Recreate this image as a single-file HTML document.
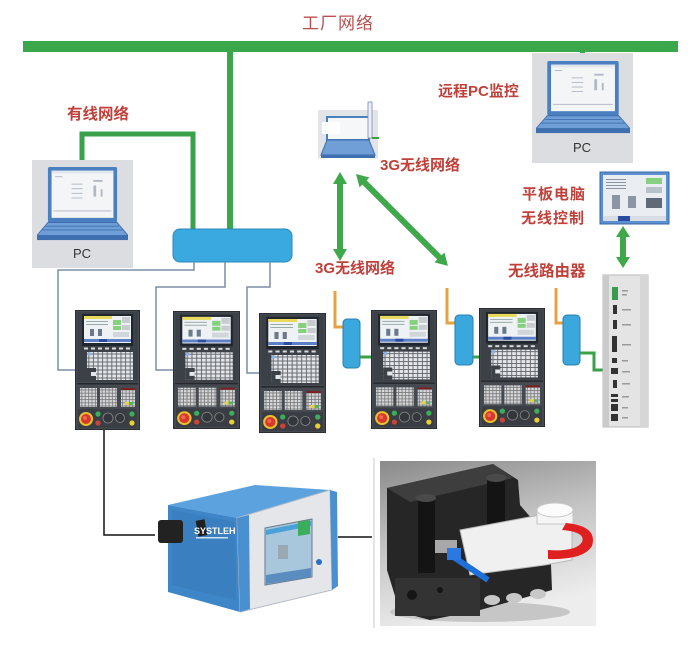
<!DOCTYPE html>
<html><head><meta charset="utf-8"><style>
html,body{margin:0;padding:0;background:#fff;}
svg{display:block;}
.lb{font-family:"Liberation Sans","Noto Sans CJK SC",sans-serif;fill:#c0403a;font-weight:bold;}
</style></head><body>
<svg width="700" height="659" viewBox="0 0 700 659" xmlns="http://www.w3.org/2000/svg">
<defs>
<pattern id="keys" x="0" y="0" width="4.6" height="4" patternUnits="userSpaceOnUse">
<rect width="4.6" height="4" fill="#6a6e74"/><rect x="0.5" y="0.5" width="3.6" height="3" fill="#e4e6e9"/>
</pattern>
<pattern id="keys2" x="0" y="0" width="3.4" height="3.2" patternUnits="userSpaceOnUse">
<rect width="3.4" height="3.2" fill="#777"/><rect x="0.4" y="0.4" width="2.6" height="2.4" fill="#d6d8db"/>
</pattern>
<linearGradient id="bg3d" x1="0" y1="0" x2="0.3" y2="1">
<stop offset="0" stop-color="#8a8a8a"/><stop offset="0.5" stop-color="#c4c4c4"/><stop offset="1" stop-color="#ededed"/>
</linearGradient>
<symbol id="cnc" viewBox="0 0 65 120" preserveAspectRatio="none">
<rect x="0.5" y="0.5" width="64" height="119" fill="#454a50" stroke="#2a2d31"/>
<rect x="2" y="2" width="61" height="70" fill="#3c4147"/>
<rect x="7" y="4" width="51" height="32" fill="#20262e"/>
<rect x="9" y="6" width="47" height="27" fill="#eef2f4"/>
<rect x="9" y="6" width="28" height="3" fill="#e8d95a"/>
<rect x="38" y="10" width="8" height="5" fill="#86d07f"/>
<rect x="47" y="7" width="8" height="6" fill="#c8ccd0"/>
<rect x="38" y="16" width="8" height="4" fill="#86d07f"/>
<rect x="47" y="15" width="8" height="5" fill="#c8ccd0"/>
<rect x="11" y="11" width="22" height="1" fill="#9aa"/>
<rect x="11" y="14" width="22" height="1" fill="#9aa"/>
<rect x="15" y="19" width="4" height="7" fill="#6a7a8a"/>
<rect x="23" y="19" width="4" height="7" fill="#6a7a8a"/>
<rect x="38" y="22" width="16" height="5" fill="#d0d6da"/>
<rect x="9" y="29" width="47" height="3" fill="#5c7fc8"/>
<rect x="24" y="29" width="8" height="3" fill="#2a4da0"/>
<g fill="#d8dadc">
<rect x="9" y="37.5" width="4" height="2"/><rect x="16" y="37.5" width="4" height="2"/><rect x="23" y="37.5" width="4" height="2"/><rect x="30" y="37.5" width="4" height="2"/><rect x="37" y="37.5" width="4" height="2"/><rect x="44" y="37.5" width="4" height="2"/><rect x="51" y="37.5" width="4" height="2"/>
</g>
<rect x="12" y="42" width="46" height="28" fill="url(#keys)"/>
<rect x="12.5" y="42.5" width="3.6" height="3" fill="#8fb0e0"/>
<rect x="12" y="58" width="9" height="12" fill="#3c4147"/>
<rect x="16" y="62" width="5" height="4" fill="#e4e6e9"/>
<rect x="2" y="73" width="61" height="1.5" fill="#25282c"/>
<rect x="5" y="78" width="17" height="19" fill="url(#keys2)"/>
<rect x="25" y="78" width="17" height="19" fill="url(#keys2)"/>
<rect x="46" y="80" width="14" height="17" fill="url(#keys2)"/>
<rect x="46" y="78" width="14" height="2" fill="#7a2020"/>
<rect x="50" y="92" width="4" height="3" fill="#e6d23a"/>
<rect x="55" y="92" width="3" height="3" fill="#4cb860"/>
<rect x="3" y="99" width="59" height="19" fill="#3a3e44"/>
<circle cx="11" cy="109" r="7" fill="#e8c030"/><circle cx="11" cy="109" r="5" fill="#d8382c"/><circle cx="10" cy="108" r="2" fill="#ee6655"/>
<circle cx="23" cy="104" r="2.6" fill="#3cae5a"/><circle cx="23" cy="113" r="2.6" fill="#c9453a"/>
<circle cx="33" cy="108" r="5" fill="#33363b" stroke="#888" stroke-width="0.8"/>
<circle cx="45" cy="108" r="4.5" fill="#33363b" stroke="#888" stroke-width="0.8"/>
<circle cx="57" cy="104" r="2.6" fill="#3cae5a"/><circle cx="57" cy="113" r="2.6" fill="#e8d030"/>
</symbol>
<symbol id="laptop" viewBox="0 0 100 80" preserveAspectRatio="none">
<rect x="12" y="0" width="76" height="60" rx="2" fill="#4a7fc0"/>
<rect x="16" y="4" width="68" height="51" fill="#f3f5f7"/>
<rect x="16" y="4" width="68" height="3" fill="#dfe6ee"/>
<g fill="#b0b8c4"><rect x="20" y="10" width="8" height="1"/><rect x="38" y="18" width="12" height="1"/><rect x="38" y="23" width="12" height="1"/><rect x="38" y="28" width="12" height="1"/><rect x="38" y="33" width="12" height="1"/><rect x="62" y="14" width="10" height="2"/><rect x="62" y="20" width="3" height="12"/><rect x="70" y="24" width="2" height="8"/><rect x="18" y="47" width="64" height="1"/></g>
<polygon points="12,60 88,60 100,74 0,74" fill="#6f9fd6" stroke="#3e6fae" stroke-width="1"/>
<g stroke="#3e6fae" stroke-width="1"><line x1="10" y1="64" x2="90" y2="64"/><line x1="6" y1="68" x2="94" y2="68"/></g>
<rect x="0" y="74" width="100" height="5" fill="#3e6fae"/>
</symbol>
</defs>

<!-- Title & main bus -->
<text x="302" y="29" class="lb" style="fill:#b85050;font-weight:normal;font-size:17px;letter-spacing:1px">工厂网络</text>
<rect x="23" y="41" width="655" height="11" fill="#3aa84a"/>
<rect x="227" y="52" width="6" height="178" fill="#3aa84a"/>
<rect x="580" y="52" width="5" height="8" fill="#3aa84a"/>

<!-- left PC -->
<rect x="32" y="160" width="101" height="108" fill="#dcdde0"/>
<use href="#laptop" x="37" y="167" width="91" height="74"/>
<text x="82" y="258" text-anchor="middle" style="font-family:'Liberation Sans',sans-serif;font-size:13px;fill:#333">PC</text>
<text x="67" y="119" class="lb" style="font-size:15.5px">有线网络</text>
<polyline points="82,160 82,134 193,134 193,230" fill="none" stroke="#3aa04a" stroke-width="5"/>

<!-- switch -->
<rect x="173" y="229" width="119" height="33" rx="7" fill="#3aa9e0" stroke="#2a86bb" stroke-width="1"/>
<g fill="none" stroke="#7d8ea5" stroke-width="1.5">
<polyline points="194,262 194,270 58,270 58,370 75,370"/>
<polyline points="225,262 225,287 156,287 156,370 173,370"/>
<polyline points="270,262 270,287 247,287 247,373 259,373"/>
</g>

<!-- 3G laptop -->
<rect x="318" y="110" width="60" height="48" fill="#e2e4e7"/>
<rect x="327" y="117" width="42" height="23" fill="#f5f7f9" stroke="#4a7fc0" stroke-width="2"/>
<rect x="322" y="122" width="18" height="12" fill="#fff"/>
<polygon points="327,140 369,140 375,155 321,155" fill="#6f9fd6" stroke="#3e6fae"/>
<rect x="321" y="155" width="54" height="3" fill="#3e6fae"/>
<rect x="368" y="102" width="4" height="36" fill="#eef" stroke="#7a8aa0" stroke-width="0.8"/>
<rect x="372" y="137" width="7" height="2" fill="#3aa04a"/>
<text x="380" y="170" class="lb" style="font-size:15px">3G无线网络</text>

<!-- arrows -->
<polygon points="340,172 347,184 343,184 343,249 347,249 340,261 333,249 337,249 337,184 333,184" fill="#3fa84a"/>
<g transform="translate(356,174) rotate(45)">
<polygon points="0,0 12,-7 12,-3 118,-3 118,-7 130,0 118,7 118,3 12,3 12,7" fill="#3fa84a"/>
</g>
<polygon points="623,226 630,237 626,237 626,257 630,257 623,268 616,257 620,257 620,237 616,237" fill="#3fa84a"/>
<text x="315" y="273" class="lb" style="font-size:15px">3G无线网络</text>

<!-- remote PC -->
<rect x="532" y="53" width="101" height="110" fill="#dcdde0"/>
<use href="#laptop" x="536" y="61" width="94" height="73"/>
<text x="582" y="152" text-anchor="middle" style="font-family:'Liberation Sans',sans-serif;font-size:13px;fill:#333">PC</text>
<text x="438" y="96" class="lb" style="font-size:15px">远程PC监控</text>

<!-- tablet -->
<rect x="600" y="172" width="69" height="52" fill="#5b8fd0" stroke="#3a6aa8"/>
<rect x="603" y="175" width="63" height="41" fill="#eaeef2"/>
<g fill="#8a96a4"><rect x="606" y="179" width="20" height="1"/><rect x="606" y="182" width="20" height="1"/><rect x="606" y="185" width="20" height="1"/><rect x="606" y="188" width="20" height="1"/><rect x="612" y="195" width="8" height="14"/><rect x="628" y="196" width="8" height="12"/></g>
<rect x="646" y="178" width="16" height="6" fill="#86d07f"/><rect x="646" y="187" width="16" height="6" fill="#b8c0c8"/>
<rect x="646" y="198" width="16" height="10" fill="#606a76"/>
<rect x="603" y="216" width="63" height="5" fill="#d8dde4"/><rect x="618" y="216" width="12" height="5" fill="#2a4da0"/>
<text x="522" y="199" class="lb" style="font-size:15px;letter-spacing:1px">平板电脑</text>
<text x="521" y="223" class="lb" style="font-size:15px;letter-spacing:1px">无线控制</text>
<text x="508" y="276" class="lb" style="font-size:15.5px">无线路由器</text>

<!-- CNC panels -->
<use href="#cnc" x="75" y="310" width="65" height="120"/>
<use href="#cnc" x="173" y="311" width="67" height="118"/>
<use href="#cnc" x="259" y="313" width="67" height="120"/>
<use href="#cnc" x="371" y="310" width="66" height="119"/>
<use href="#cnc" x="479" y="308" width="66" height="119"/>

<!-- routers -->
<g stroke="#e8a040" stroke-width="3" fill="none">
<polyline points="335,291 335,327 343,327"/>
<polyline points="447,288 447,323 455,323"/>
<polyline points="556,288 556,323 563,323"/>
</g>
<rect x="343" y="319" width="17" height="49" rx="4" fill="#3aa7dd" stroke="#2a7fb0"/>
<rect x="455" y="315" width="18" height="50" rx="4" fill="#3aa7dd" stroke="#2a7fb0"/>
<rect x="563" y="315" width="17" height="50" rx="4" fill="#3aa7dd" stroke="#2a7fb0"/>
<g stroke="#3aa04a" stroke-width="3" fill="none">
<line x1="360" y1="357" x2="371" y2="357"/>
<line x1="473" y1="357" x2="479" y2="357"/>
<polyline points="580,353 594,353 594,370 609,370"/>
</g>

<!-- right controller -->
<rect x="603" y="275" width="45" height="152" fill="#e4e4e4" stroke="#b8b8b8"/>
<rect x="603" y="275" width="6" height="152" fill="#cbcbcb"/>
<rect x="640" y="275" width="8" height="152" fill="#d6d6d6"/>
<rect x="612" y="287" width="6" height="13" fill="#3a9a50"/>
<g fill="#333">
<rect x="613" y="305" width="4" height="9"/><rect x="613" y="320" width="4" height="9"/><rect x="612" y="336" width="5" height="16"/>
<rect x="612" y="358" width="5" height="5"/><rect x="611" y="368" width="7" height="6"/><rect x="613" y="380" width="4" height="8"/>
<rect x="611" y="394" width="7" height="3"/><rect x="611" y="399" width="7" height="3"/><rect x="611" y="404" width="7" height="7"/><rect x="611" y="414" width="7" height="7"/>
</g>
<g fill="#9a9a9a">
<rect x="622" y="290" width="6" height="1.5"/><rect x="622" y="294" width="5" height="1.5"/><rect x="622" y="309" width="9" height="1.5"/><rect x="622" y="324" width="9" height="1.5"/><rect x="622" y="344" width="9" height="1.5"/><rect x="622" y="360" width="6" height="1.5"/><rect x="622" y="371" width="8" height="1.5"/><rect x="622" y="383" width="8" height="1.5"/><rect x="622" y="396" width="7" height="1.5"/><rect x="622" y="407" width="6" height="1.5"/><rect x="622" y="417" width="6" height="1.5"/>
</g>

<!-- bottom connectors -->
<polyline points="104,430 104,535 155,535" fill="none" stroke="#111" stroke-width="1.5"/>
<line x1="338" y1="537" x2="372" y2="537" stroke="#111" stroke-width="1.5"/>

<!-- blue device -->
<polygon points="168,505 255,485 330,490 238,518" fill="#5ca2de"/>
<polygon points="168,505 238,518 240,612 168,592" fill="#3f86c8"/>
<polygon points="172,510 235,522 236,600 172,585" fill="#3a7fc0"/>
<polygon points="237,518 330,490 332,590 240,612" fill="#e4e6ea" stroke="#b4bcc8" stroke-width="1"/>
<polygon points="237,518 249,515 250,609 240,612" fill="#4a90d0"/>
<polygon points="330,490 337,492 338,586 332,590" fill="#4a90d0"/>
<polygon points="265,528 312,519 312,577 265,585" fill="#a8c6dc" stroke="#6a7a8a"/>
<polygon points="266,530 311,521 311,526 266,535" fill="#4aa0d8"/>
<polygon points="298,522 310,520 310,534 298,536" fill="#3aae5a"/>
<rect x="278" y="545" width="10" height="14" fill="#9aa8b4"/>
<polygon points="266,575 311,568 311,577 266,584" fill="#5a8cc0"/>
<circle cx="319" cy="562" r="3" fill="#2a6fc0"/>
<rect x="158" y="520" width="25" height="23" rx="3" fill="#222"/>
<rect x="197" y="520" width="9" height="16" fill="#202020" transform="rotate(-10 201 528)"/>
<text x="194" y="534" style="font-family:'Liberation Sans',sans-serif;font-size:9px;fill:#fff;font-weight:bold">SYSTLEH</text>
<rect x="196" y="537" width="32" height="1.5" fill="#cfe0f0"/>

<!-- machine image -->
<line x1="374" y1="458" x2="374" y2="628" stroke="#c8c8c8" stroke-width="1"/>
<rect x="380" y="461" width="216" height="165" fill="url(#bg3d)"/>
<ellipse cx="480" cy="612" rx="90" ry="10" fill="#c6c6c6"/>
<polygon points="387,488 493,464 518,480 520,505 550,540 552,590 480,610 430,620 400,612 387,570" fill="#262626"/>
<polygon points="387,488 493,464 513,478 410,502" fill="#3e3e3e"/>
<rect x="418" y="498" width="17" height="75" fill="#141414"/>
<ellipse cx="426" cy="498" rx="10" ry="4" fill="#4a4a4a"/>
<rect x="487" y="478" width="18" height="60" fill="#141414"/>
<ellipse cx="496" cy="478" rx="10" ry="4" fill="#4a4a4a"/>
<rect x="395" y="578" width="85" height="38" fill="#333"/>
<circle cx="412" cy="595" r="5" fill="#151515"/><circle cx="440" cy="590" r="3" fill="#151515"/>
<polygon points="460,530 540,515 572,520 572,560 545,565 470,575" fill="#f0f0f0" stroke="#b8b8b8"/>
<rect x="537" y="510" width="36" height="14" fill="#f6f6f6" stroke="#c4c4c4"/>
<ellipse cx="555" cy="510" rx="18" ry="7" fill="#fcfcfc" stroke="#c8c8c8"/>
<path d="M 566 523 Q 598 526 592 546 Q 584 560 548 559 L 548 550 Q 576 552 582 542 Q 586 532 562 530 Z" fill="#e02020"/>
<rect x="435" y="540" width="22" height="13" fill="#a8a8a8"/>
<line x1="452" y1="556" x2="488" y2="580" stroke="#1e6fd8" stroke-width="6"/>
<rect x="447" y="548" width="14" height="12" fill="#2a78e0"/>
<ellipse cx="492" cy="600" rx="8" ry="5" fill="#c8c8c8"/>
<ellipse cx="514" cy="598" rx="8" ry="5" fill="#c8c8c8"/>
<ellipse cx="538" cy="594" rx="8" ry="5" fill="#c8c8c8"/>
</svg>
</body></html>
